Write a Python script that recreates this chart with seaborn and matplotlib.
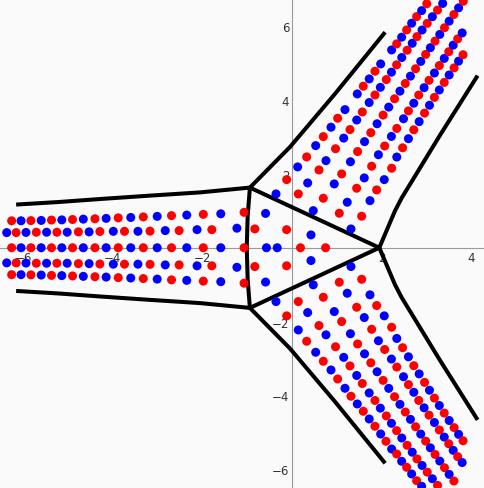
import matplotlib
matplotlib.use("Agg")
import matplotlib.pyplot as plt
import pandas as pd
import seaborn as sns
from matplotlib.ticker import MultipleLocator, FixedLocator

# ---- left arm, five rows (colour strings: R = red, B = blue) ----
row1_x = [-6.26, -6.05, -5.83, -5.60, -5.37, -5.14, -4.90, -4.66, -4.40, -4.15,
          -3.88, -3.60, -3.32, -3.01, -2.69, -2.35, -1.98, -1.59, -1.07, -0.59]
row1_y = [0.73, 0.73, 0.735, 0.74, 0.75, 0.755, 0.765, 0.775, 0.785, 0.795,
          0.81, 0.82, 0.835, 0.85, 0.87, 0.885, 0.905, 0.92, 0.96, 0.93]
row1_c = "RBRBRBRBRBRBRBRBRBRB"

row2_x = [-6.37, -6.16, -5.94, -5.71, -5.48, -5.25, -5.02, -4.77, -4.53, -4.29,
          -3.99, -3.74, -3.44, -3.17, -2.83, -2.52, -2.12, -1.79, -1.23, -0.83, -0.12]
row2_y = [0.41, 0.41, 0.415, 0.42, 0.42, 0.42, 0.42, 0.43, 0.43, 0.44,
          0.445, 0.445, 0.445, 0.45, 0.465, 0.465, 0.49, 0.49, 0.53, 0.51, 0.49]
row2_c = "BRBRBRBRBRBRBRBRBRBRR"

row3_x = [-6.26, -6.05, -5.83, -5.60, -5.37, -5.14, -4.90, -4.66, -4.40, -4.15,
          -3.88, -3.60, -3.32, -3.01, -2.69, -2.35, -1.98, -1.59, -1.07, -0.57,
          -0.33, 0.19, 0.75, 0.424, 0.424]
row3_y = [0.0] * 23 + [0.347, -0.347]
row3_c = "RBRBRBRBRBRBRBRBRBRBBRRBB"

row4_x = [-6.37, -6.16, -5.94, -5.71, -5.48, -5.25, -5.02, -4.77, -4.53, -4.29,
          -3.99, -3.74, -3.44, -3.17, -2.83, -2.52, -2.12, -1.79, -1.23, -0.83, -0.12]
row4_y = [-0.41, -0.41, -0.415, -0.42, -0.42, -0.42, -0.42, -0.43, -0.43, -0.44,
          -0.445, -0.445, -0.445, -0.45, -0.465, -0.465, -0.49, -0.49, -0.53, -0.51, -0.49]
row4_c = "BRBRBRBRBRBRBRBRBRBRR"

row5_x = [-6.26, -6.05, -5.83, -5.60, -5.37, -5.14, -4.90, -4.66, -4.40, -4.15,
          -3.88, -3.60, -3.32, -3.01, -2.69, -2.35, -1.98, -1.59, -1.07, -0.59]
row5_y = [-0.73, -0.73, -0.735, -0.74, -0.75, -0.755, -0.765, -0.775, -0.785, -0.795,
          -0.81, -0.82, -0.835, -0.85, -0.87, -0.885, -0.905, -0.92, -0.96, -0.93]
row5_c = "RBRBRBRBRBRBRBRBRBRB"

# ---- upper arm, five rows from inner edge outwards ----
up1_x = [-0.357, -0.118, 0.127, 0.328, 0.529, 0.699, 0.871, 1.020, 1.183, 1.458,
         1.592, 1.725, 1.853, 1.980, 2.225, 2.337, 2.449, 2.560, 2.672, 2.783,
         2.895, 3.01]
up1_y = [1.458, 1.846, 2.190, 2.461, 2.767, 3.011, 3.266, 3.509, 3.743, 4.168,
         4.377, 4.575, 4.783, 4.981, 5.360, 5.523, 5.705, 5.902, 6.084, 6.263,
         6.425, 6.61]
up1_c = "BRBRBRBRBBRBRBBRBRBRBR"

up2_x = [0.141, 0.350, 0.603, 0.759, 0.972, 1.155, 1.295, 1.445, 1.570, 1.724,
         1.853, 1.973, 2.106, 2.221, 2.336, 2.451, 2.571, 2.685, 2.79, 2.905,
         3.02, 3.135, 3.25, 3.365]
up2_y = [1.458, 1.756, 2.108, 2.360, 2.683, 2.970, 3.202, 3.461, 3.678, 3.935,
         4.138, 4.346, 4.557, 4.757, 4.956, 5.155, 5.352, 5.540, 5.721, 5.90,
         6.08, 6.26, 6.44, 6.62]
up2_c = "RBRBRBRBRBRBRBRBRBRBRBRB"

up3_x = [0.475, 0.699, 0.944, 1.109, 1.305, 1.465, 1.62, 1.76, 1.90, 2.035,
         2.16, 2.29, 2.41, 2.53, 2.645, 2.76, 2.875, 2.985, 3.09, 3.195,
         3.30, 3.405, 3.51, 3.615, 3.72, 3.825]
up3_y = [1.005, 1.341, 1.729, 2.0, 2.330, 2.607, 2.875, 3.118, 3.360, 3.594,
         3.810, 4.036, 4.243, 4.451, 4.650, 4.850, 5.049, 5.239, 5.421, 5.60,
         5.78, 5.96, 6.14, 6.32, 6.50, 6.68]
up3_c = "BRBRBRBRBRBRBRBRBRBRBRBRBR"

up4_x = [1.056, 1.234, 1.444, 1.614, 1.779, 1.93, 2.07, 2.22, 2.34, 2.49,
         2.60, 2.72, 2.83, 2.95, 3.06, 3.18, 3.29, 3.40, 3.50, 3.60, 3.70, 3.80]
up4_y = [0.935, 1.233, 1.612, 1.892, 2.209, 2.520, 2.757, 3.016, 3.233, 3.495,
         3.708, 3.916, 4.137, 4.337, 4.536, 4.735, 4.937, 5.130, 5.311, 5.49, 5.66, 5.82]
up4_c = "RBRBRBRBRBRBRBRBRBRBRB"

up5_x = [1.317, 1.556, 1.741, 1.891, 2.060, 2.225, 2.34, 2.47, 2.60, 2.72,
         2.84, 2.96, 3.07, 3.18, 3.29, 3.40, 3.51, 3.62, 3.72, 3.82]
up5_y = [0.509, 0.854, 1.276, 1.566, 1.846, 2.154, 2.458, 2.708, 2.955, 3.196,
         3.418, 3.648, 3.861, 4.074, 4.275, 4.480, 4.681, 4.874, 5.056, 5.23]
up5_c = "BRBRBRBRBRBRBRBRBRBR"

# ---- lower arm, five rows from inner edge outwards ----
lo1_x = [-0.357, -0.118, 0.141, 0.328, 0.529, 0.699, 0.871, 1.020, 1.183, 1.317,
         1.458, 1.592, 1.725, 1.853, 1.980, 2.098, 2.225, 2.337, 2.449, 2.560,
         2.672, 2.783, 2.895]
lo1_y = [-1.458, -1.846, -2.228, -2.534, -2.832, -3.076, -3.312, -3.556, -3.808, -4.024,
         -4.233, -4.431, -4.640, -4.837, -5.046, -5.244, -5.453, -5.588, -5.786, -5.949,
         -6.130, -6.312, -6.463]
lo1_c = "BRBRBRBRBRBRBRBRBRBRBRB"

lo2_x = [0.141, 0.350, 0.603, 0.759, 0.972, 1.155, 1.295, 1.445, 1.570, 1.724,
         1.853, 1.973, 2.106, 2.221, 2.336, 2.451, 2.571, 2.685, 2.79, 2.905,
         3.02, 3.135, 3.25]
lo2_y = [-1.458, -1.756, -2.108, -2.360, -2.683, -2.970, -3.202, -3.461, -3.678, -3.935,
         -4.138, -4.346, -4.557, -4.757, -4.956, -5.155, -5.352, -5.540, -5.721, -5.90,
         -6.08, -6.26, -6.44]
lo2_c = "RBRBRBRBRBRBRBRBRBRBRBR"

lo3_x = [0.475, 0.699, 0.944, 1.109, 1.305, 1.465, 1.62, 1.76, 1.90, 2.035,
         2.16, 2.29, 2.41, 2.53, 2.645, 2.76, 2.875, 2.985, 3.09, 3.195,
         3.30, 3.405, 3.51, 3.615]
lo3_y = [-1.005, -1.341, -1.729, -2.0, -2.330, -2.607, -2.875, -3.118, -3.360, -3.594,
         -3.810, -4.036, -4.243, -4.451, -4.650, -4.850, -5.049, -5.239, -5.421, -5.60,
         -5.78, -5.96, -6.14, -6.32]
lo3_c = "BRBRBRBRBRBRBRBRBRBRBRBR"

lo4_x = [1.056, 1.234, 1.444, 1.614, 1.779, 1.93, 2.07, 2.22, 2.34, 2.49,
         2.60, 2.72, 2.83, 2.95, 3.06, 3.18, 3.29, 3.40, 3.50, 3.60, 3.70, 3.80]
lo4_y = [-0.935, -1.233, -1.612, -1.892, -2.209, -2.520, -2.757, -3.016, -3.233, -3.495,
         -3.708, -3.916, -4.137, -4.337, -4.536, -4.735, -4.937, -5.130, -5.311, -5.49,
         -5.66, -5.82]
lo4_c = "RBRBRBRBRBRBRBRBRBRBRB"

lo5_x = [1.317, 1.556, 1.741, 1.891, 2.060, 2.225, 2.34, 2.47, 2.60, 2.72,
         2.84, 2.96, 3.07, 3.18, 3.29, 3.40, 3.51, 3.62, 3.72, 3.82]
lo5_y = [-0.509, -0.854, -1.276, -1.566, -1.846, -2.154, -2.458, -2.708, -2.955, -3.196,
         -3.418, -3.648, -3.861, -4.074, -4.275, -4.480, -4.681, -4.874, -5.056, -5.23]
lo5_c = "BRBRBRBRBRBRBRBRBRBR"

# ---- black curves ----
left_top_x = [-6.16, -5.20, -4.29, -3.20, -2.05, -0.94]
left_top_y = [1.17, 1.24, 1.32, 1.41, 1.50, 1.63]
left_bot_x = [-6.16, -5.20, -4.29, -3.20, -2.05, -0.94]
left_bot_y = [-1.17, -1.24, -1.32, -1.41, -1.50, -1.63]
tri_left_x = [-0.94, -0.99, -1.01, -0.99, -0.94]
tri_left_y = [1.63, 0.85, 0.0, -0.85, -1.63]
tri_top_x = [-0.94, 1.95]
tri_top_y = [1.63, 0.0]
tri_bot_x = [-0.94, 1.95]
tri_bot_y = [-1.63, 0.0]
up_left_x = [-0.94, -0.045, 0.96, 2.08]
up_left_y = [1.63, 2.73, 4.17, 5.84]
up_right_x = [1.95, 2.30, 2.45, 3.30, 4.145]
up_right_y = [0.0, 1.00, 1.35, 3.04, 4.664]
lo_left_x = [-0.94, -0.045, 0.96, 2.08]
lo_left_y = [-1.63, -2.73, -4.17, -5.84]
lo_right_x = [1.95, 2.30, 2.45, 3.30, 4.145]
lo_right_y = [0.0, -1.00, -1.35, -3.04, -4.664]

x_ticks = [-6, -4, -2, 2, 4]
y_ticks = [-6, -4, -2, 2, 4, 6]

rows = [
    (row1_x, row1_y, row1_c), (row2_x, row2_y, row2_c), (row3_x, row3_y, row3_c),
    (row4_x, row4_y, row4_c), (row5_x, row5_y, row5_c),
    (up1_x, up1_y, up1_c), (up2_x, up2_y, up2_c), (up3_x, up3_y, up3_c),
    (up4_x, up4_y, up4_c), (up5_x, up5_y, up5_c),
    (lo1_x, lo1_y, lo1_c), (lo2_x, lo2_y, lo2_c), (lo3_x, lo3_y, lo3_c),
    (lo4_x, lo4_y, lo4_c), (lo5_x, lo5_y, lo5_c),
]
frames = [pd.DataFrame({"x": xs, "y": ys, "c": list(cs)}) for xs, ys, cs in rows]
dots = pd.concat(frames, ignore_index=True)

curves = [
    (left_top_x, left_top_y), (left_bot_x, left_bot_y), (tri_left_x, tri_left_y),
    (tri_top_x, tri_top_y), (tri_bot_x, tri_bot_y), (up_left_x, up_left_y),
    (up_right_x, up_right_y), (lo_left_x, lo_left_y), (lo_right_x, lo_right_y),
]

sns.set_style("white")
bg = "#fafafa"
fig = plt.figure(figsize=(4.85, 4.89), dpi=100, facecolor=bg)
ax = fig.add_axes([0, 0, 1, 1], facecolor=bg)

for cx, cy in curves:
    ax.plot(cx, cy, color="black", lw=2.9, solid_joinstyle="round",
            solid_capstyle="butt", zorder=2)

sns.scatterplot(data=dots, x="x", y="y", hue="c",
                palette={"R": "#ff0000", "B": "#0000ff"},
                s=42, linewidth=0, legend=False, zorder=3, ax=ax)

ax.set_xlim(-6.52, 4.31)
ax.set_ylim(-6.51, 6.74)
ax.set_xlabel("")
ax.set_ylabel("")

axis_col = "#9a9a9a"
for side in ["top", "right"]:
    ax.spines[side].set_visible(False)
for side in ["left", "bottom"]:
    ax.spines[side].set_position(("data", 0))
    ax.spines[side].set_color(axis_col)
    ax.spines[side].set_linewidth(0.8)
    ax.spines[side].set_zorder(1)

ax.xaxis.set_major_locator(FixedLocator(x_ticks))
ax.yaxis.set_major_locator(FixedLocator(y_ticks))
ax.xaxis.set_minor_locator(MultipleLocator(0.5))
ax.yaxis.set_minor_locator(MultipleLocator(0.5))
ax.set_xticklabels([f"\u2212{abs(t)}" if t < 0 else str(t) for t in x_ticks])
ax.set_yticklabels([f"\u2212{abs(t)}" if t < 0 else str(t) for t in y_ticks])
ax.tick_params(which="major", direction="in", length=4.5, width=0.8,
               color=axis_col, labelsize=8.5, labelcolor="#333333", pad=2)
ax.tick_params(which="minor", direction="in", length=2.5, width=0.6, color=axis_col)

fig.savefig("out.png", dpi=100, facecolor=bg)
